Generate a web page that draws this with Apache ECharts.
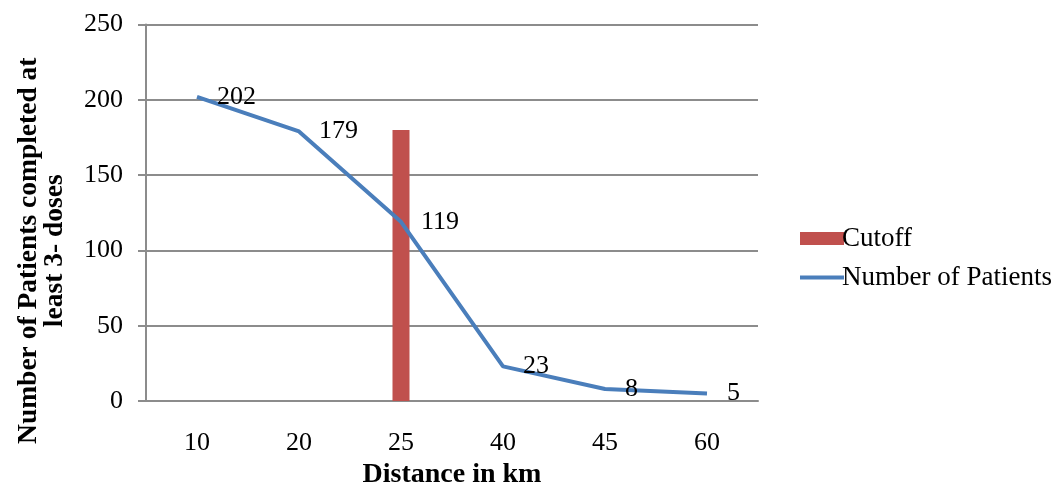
<!DOCTYPE html>
<html>
<head>
<meta charset="utf-8">
<script src="https://cdn.jsdelivr.net/npm/echarts@6/dist/echarts.min.js"></script>
<style>html,body{margin:0;padding:0;background:#fff}#c{width:1060px;height:485px}</style>
</head>
<body>
<div id="c"></div>
<script>
var categories = ['10', '20', '25', '40', '45', '60'];
var patients = [202, 179, 119, 23, 8, 5];
var cutoff = [null, null, 180, null, null, null];
var yTicks = { min: 0, max: 250, interval: 50 };

var font = '"Liberation Serif", "Times New Roman", serif';
var chart = echarts.init(document.getElementById('c'));
chart.setOption({
  animation: false,
  backgroundColor: '#fff',
  textStyle: { fontFamily: font },
  grid: { left: 146, right: 302, top: 24.5, bottom: 84, containLabel: false, outerBoundsMode: 'none' },
  legend: {
    orient: 'vertical', left: 793, top: 220,
    itemWidth: 44, itemHeight: 13, itemGap: 12,
    textStyle: { fontFamily: font, fontSize: 27, color: '#000', padding: [0, 0, 0, -7] },
    data: [
      { name: 'Cutoff', icon: 'rect' },
      { name: 'Number of Patients', itemStyle: { opacity: 0 }, lineStyle: { width: 4, color: '#4a7ebb' } }
    ]
  },
  xAxis: {
    type: 'category', data: categories, boundaryGap: true,
    name: 'Distance in km', nameLocation: 'middle', nameGap: 55,
    nameTextStyle: { fontFamily: font, fontSize: 28, fontWeight: 'bold', color: '#000' },
    axisLine: { show: true, lineStyle: { color: '#8c8c8c', width: 2 } },
    axisTick: { show: false },
    axisLabel: { fontFamily: font, fontSize: 26, color: '#000', margin: 29 }
  },
  yAxis: {
    type: 'value', min: yTicks.min, max: yTicks.max, interval: yTicks.interval,
    name: 'Number of Patients completed at\nleast 3- doses', nameLocation: 'middle', nameGap: 78,
    nameTextStyle: { fontFamily: font, fontSize: 27.5, fontWeight: 'bold', color: '#000', lineHeight: 26, padding: [0, 76, 0, 0] },
    axisLine: { show: true, lineStyle: { color: '#8c8c8c', width: 2 } },
    axisTick: { show: true, length: 8, lineStyle: { color: '#8c8c8c', width: 2 } },
    splitLine: { show: true, lineStyle: { color: '#8c8c8c', width: 2 } },
    axisLabel: { fontFamily: font, fontSize: 26, color: '#000', margin: 23 }
  },
  series: [
    {
      name: 'Cutoff', type: 'bar', data: cutoff, barWidth: 17,
      itemStyle: { color: '#c0504d' }
    },
    {
      name: 'Number of Patients', type: 'line', data: patients,
      symbol: 'circle', symbolSize: 0, showSymbol: true,
      lineStyle: { color: '#4a7ebb', width: 4 },
      itemStyle: { color: '#4a7ebb' },
      label: { show: true, position: 'right', distance: 20, fontFamily: font, fontSize: 26, color: '#000' },
      z: 3
    }
  ]
});
</script>
</body>
</html>
